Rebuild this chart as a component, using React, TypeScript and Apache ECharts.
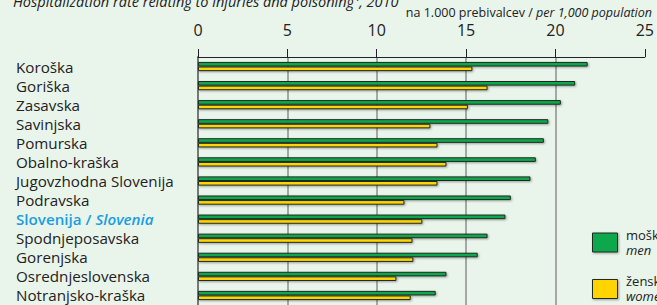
import React, { useEffect, useRef } from "react";
import * as echarts from "echarts";

const categories = [
  "Koroška",
  "Goriška",
  "Zasavska",
  "Savinjska",
  "Pomurska",
  "Obalno-kraška",
  "Jugovzhodna Slovenija",
  "Podravska",
  "Slovenija / Slovenia",
  "Spodnjeposavska",
  "Gorenjska",
  "Osrednjeslovenska",
  "Notranjsko-kraška",
];
const menValues = [21.8, 21.1, 20.3, 19.6, 19.35, 18.9, 18.6, 17.5, 17.2, 16.2, 15.65, 13.9, 13.3];
const womenValues = [15.35, 16.2, 15.1, 13.0, 13.4, 13.9, 13.4, 11.55, 12.55, 12.0, 12.05, 11.1, 11.9];
const xTicks = [0, 5, 10, 15, 20, 25];
const titleText = "Hospitalization rate relating to injuries and poisoning¹, 2010";
const unitText = "na 1.000 prebivalcev / {i|per 1,000 population}";
const menLabel = ["moški", "men"];
const womenLabel = ["ženske", "women"];

const FONT = "'Open Sans', 'Noto Sans', sans-serif";
const GREEN = "#10a84b";
const YELLOW = "#ffd400";
const BORDER = "#1e2a22";

export default function App() {
  const ref = useRef<HTMLDivElement>(null);
  useEffect(() => {
    if (!ref.current) return;
    const chart = echarts.init(ref.current, undefined, { renderer: "svg" });
    const barStyle = (color: string) => ({
      color,
      borderColor: BORDER,
      borderWidth: 1,
      shadowColor: "rgba(0,0,0,0.35)",
      shadowBlur: 2,
      shadowOffsetX: 1,
      shadowOffsetY: 1,
    });
    const legendText = (x: number, y: number, text: string, italic: boolean) => ({
      type: "text",
      x,
      y,
      style: {
        text,
        fontSize: 13,
        fontStyle: italic ? "italic" : "normal",
        fill: "#222",
        fontFamily: FONT,
        verticalAlign: "middle",
      },
    });
    chart.setOption({
      animation: false,
      backgroundColor: "#e9f4eb",
      textStyle: { fontFamily: FONT },
      grid: { left: 198, top: 57, right: 12, height: 250.25, containLabel: false },
      xAxis: {
        type: "value",
        position: "top",
        min: xTicks[0],
        max: xTicks[xTicks.length - 1],
        interval: 5,
        axisLine: { show: true, lineStyle: { color: "#222", width: 1 } },
        axisTick: { show: true, length: 8, lineStyle: { color: "#222", width: 1 } },
        axisLabel: { fontSize: 16, color: "#222", margin: 19, fontFamily: FONT },
        splitLine: {
          show: true,
          lineStyle: {
            color: ["transparent", "#8c8f8c", "#8c8f8c", "#8c8f8c", "#8c8f8c", "transparent"],
            width: 1.5,
          },
        },
      },
      yAxis: {
        type: "category",
        data: categories,
        inverse: true,
        axisLine: { show: true, lineStyle: { color: "#777", width: 2 } },
        axisTick: { show: false },
        axisLabel: {
          interval: 0,
          align: "left",
          margin: 182,
          fontSize: 15.2,
          lineHeight: 16,
          color: "#222",
          fontFamily: FONT,
          formatter: (v: string) =>
            v === "Slovenija / Slovenia" ? "{hl|Slovenija / }{hli|Slovenia}" : v,
          rich: {
            hl: { color: "#1a9de0", fontWeight: 600, fontSize: 15.2, lineHeight: 16, fontFamily: FONT },
            hli: { color: "#1a9de0", fontWeight: 600, fontStyle: "italic", fontSize: 15.2, lineHeight: 16, fontFamily: FONT },
          },
        },
      },
      series: [
        {
          name: "men",
          type: "bar",
          data: menValues,
          barWidth: 4.6,
          barGap: "0%",
          itemStyle: barStyle(GREEN),
        },
        {
          name: "women",
          type: "bar",
          data: womenValues,
          barWidth: 4.6,
          barGap: "0%",
          itemStyle: barStyle(YELLOW),
        },
      ],
      graphic: [
        {
          type: "text",
          x: 13,
          y: 1.5,
          style: {
            text: titleText,
            fontSize: 14.5,
            fontStyle: "italic",
            fill: "#222",
            fontFamily: FONT,
            verticalAlign: "middle",
          },
        },
        {
          type: "text",
          x: 652,
          y: 12.5,
          style: {
            text: unitText,
            fontSize: 12.5,
            fill: "#222",
            fontFamily: FONT,
            align: "right",
            verticalAlign: "middle",
            rich: { i: { fontStyle: "italic", fontSize: 12.5, fill: "#222", fontFamily: FONT } },
          },
        },
        {
          type: "rect",
          shape: { x: 592.5, y: 233, width: 25, height: 19 },
          style: { fill: GREEN, stroke: BORDER, lineWidth: 1, shadowColor: "rgba(0,0,0,0.35)", shadowBlur: 2, shadowOffsetX: 1, shadowOffsetY: 1 },
        },
        {
          type: "rect",
          shape: { x: 592.5, y: 279.5, width: 25, height: 19 },
          style: { fill: YELLOW, stroke: BORDER, lineWidth: 1, shadowColor: "rgba(0,0,0,0.35)", shadowBlur: 2, shadowOffsetX: 1, shadowOffsetY: 1 },
        },
        legendText(626, 235, menLabel[0], false),
        legendText(626, 250, menLabel[1], true),
        legendText(626, 281, womenLabel[0], false),
        legendText(626, 296, womenLabel[1], true),
      ],
    });
    return () => chart.dispose();
  }, []);
  return (
    <div
      ref={ref}
      style={{ position: "absolute", left: 0, top: 0, width: 657, height: 305 }}
    />
  );
}
